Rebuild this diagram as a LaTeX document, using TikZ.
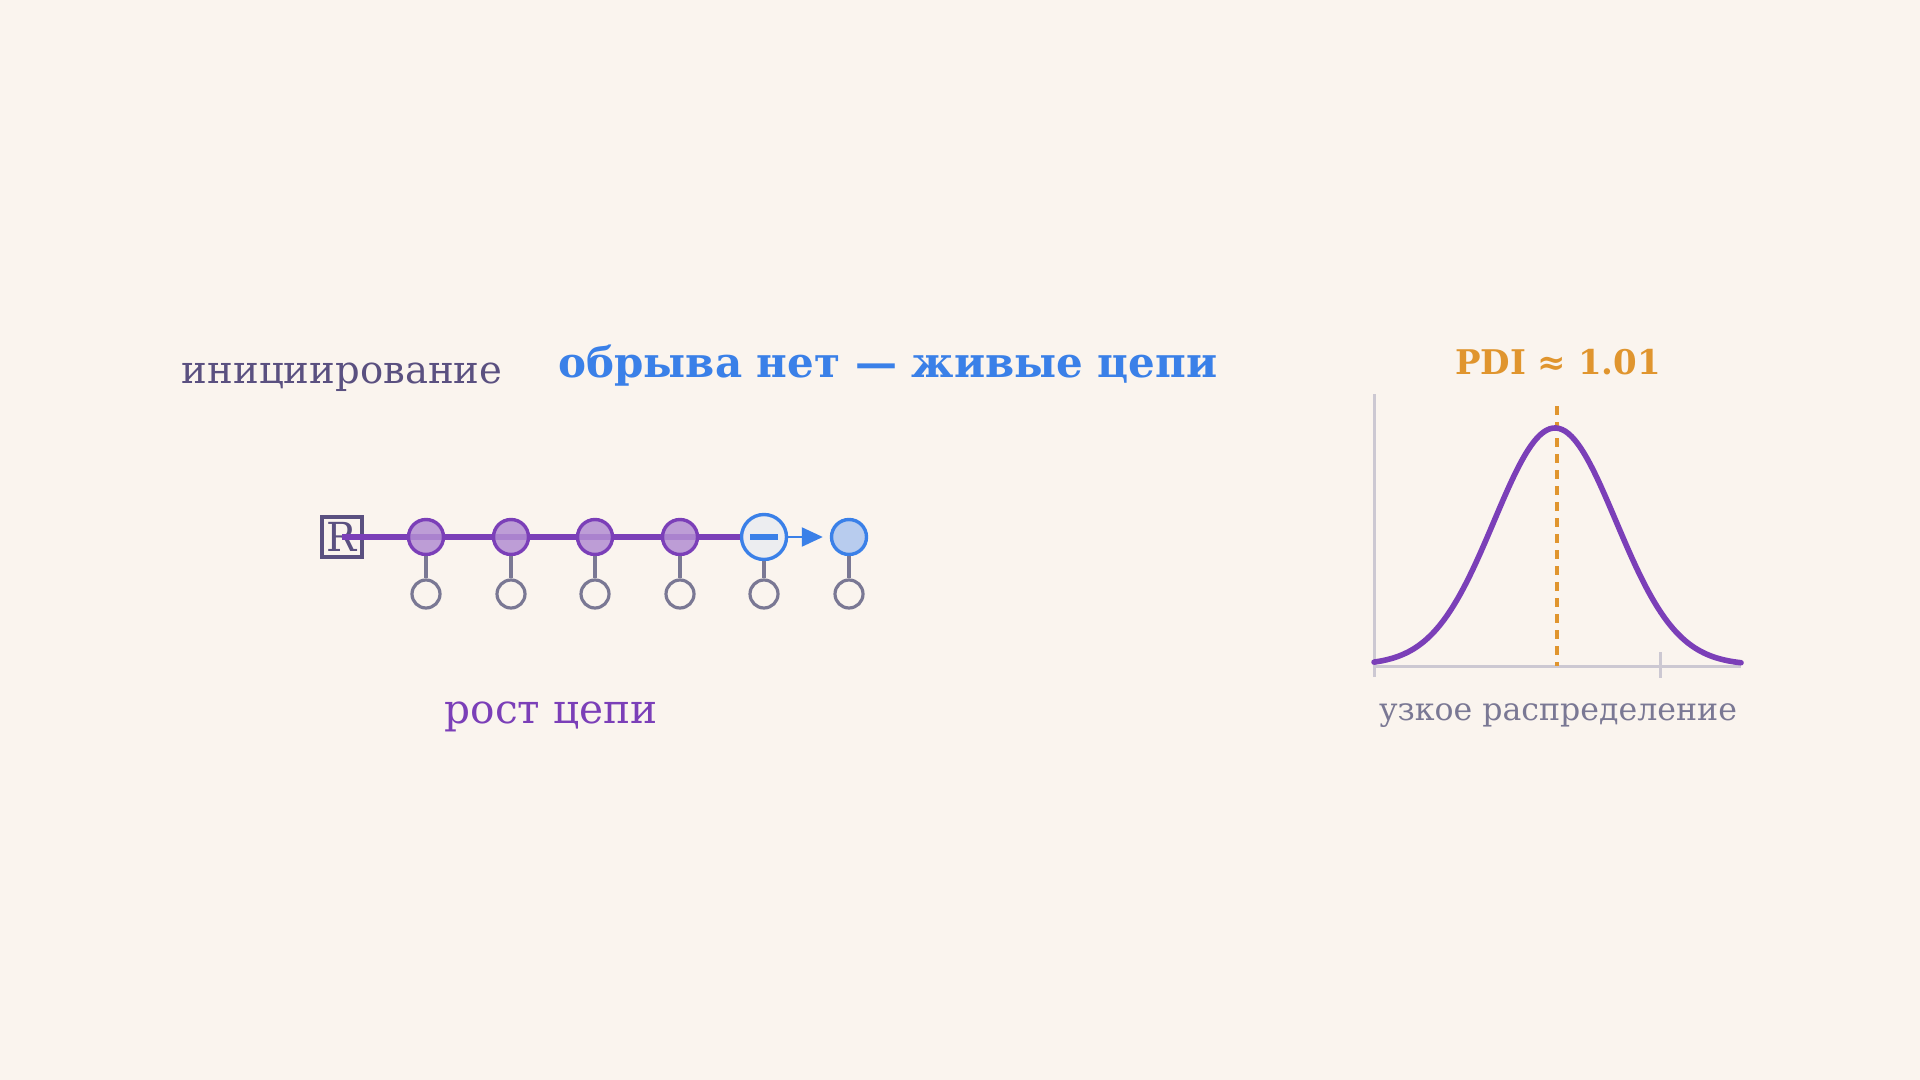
\documentclass[tikz,border=0pt]{standalone}
\usepackage{fontspec}
\setmainfont{DejaVu Serif}
\usepackage{tikz}
\usetikzlibrary{arrows.meta, positioning}

\definecolor{fon}{HTML}{FAF4EE}
\definecolor{ljub}{HTML}{7B3FB8}
\definecolor{ljubsv}{HTML}{B38ED2}
\definecolor{plav}{HTML}{3A80E8}
\definecolor{plavsv}{HTML}{B8CCEE}
\definecolor{sivsv}{HTML}{ECEDF0}
\definecolor{oranz}{HTML}{E0952E}
\definecolor{tekst}{HTML}{5A5080}
\definecolor{siv}{HTML}{7A7894}
\definecolor{os}{HTML}{CCC8D2}

\tikzset{
	monomer/.style={circle, draw=ljub, line width=1.7pt, fill=ljubsv, fill opacity=0.85, minimum size=17.5pt, inner sep=0pt},
	aktiv/.style={circle, draw=plav, line width=1.7pt, fill=sivsv, minimum size=22.5pt, inner sep=0pt},
	novi/.style={circle, draw=plav, line width=1.7pt, fill=plavsv, minimum size=17.5pt, inner sep=0pt},
	bocna/.style={circle, draw=siv, line width=1.6pt, fill=fon, minimum size=14pt, inner sep=0pt},
	stem/.style={draw=siv, line width=1.6pt},
}

\begin{document}
\begin{tikzpicture}[x=0.5pt, y=-0.5pt]
	%pozadina
	\fill[fon] (0,0) rectangle (1920,1080);

	%naslovi
	\node[text=tekst, font=\fontsize{19.3}{22}\selectfont] (init) at (342, 377) {инициирование};
	\node[text=plav, font=\bfseries\fontsize{21}{24}\selectfont] (naslov) at (888, 366) {обрыва нет — живые цепи};
	\node[text=ljub, font=\fontsize{20.3}{23}\selectfont] (rast) at (551, 717) {рост цепи};

	%lanac
	\node[draw=tekst, line width=1.7pt, text=tekst, minimum size=20pt, inner sep=0pt, font=\fontsize{20}{22}\selectfont] (R) at (342, 537) {R};
	\node[aktiv] (act) at (764, 537) {};
	\draw[ljub, line width=2.6pt] (R.center) -- (act.west);
	\node[monomer] (m1) at (426, 537) {};
	\node[monomer] (m2) at (511, 537) {};
	\node[monomer] (m3) at (595, 537) {};
	\node[monomer] (m4) at (680, 537) {};
	\node[novi] (mon) at (849, 537) {};
	\draw[plav, line width=2.7pt] ([xshift=-7pt]act.center) -- ([xshift=7pt]act.center);
	\draw[plav, line width=1.1pt, -{Triangle[length=10.5pt, width=9.5pt]}, shorten >=3.5pt] (act) -- (mon);

	%bocne grupe
	\foreach \i/\m/\x in {1/m1/426, 2/m2/511, 3/m3/595, 4/m4/680, 5/act/764, 6/mon/849} {
		\node[bocna] (s\i) at (\x, 594) {};
		\draw[stem] (\m) -- (s\i);
	}

	%raspodjela
	\coordinate (O) at (1374, 666);
	\coordinate (ytop) at (1374, 394);
	\coordinate (xend) at (1741, 666);
	\draw[os, line width=1.5pt] (1374, 677) -- (ytop);
	\draw[os, line width=1.5pt] (O) -- (xend);
	\draw[os, line width=1.5pt] (1660, 652) -- (1660, 678);
	\draw[oranz, line width=2.2pt, dash pattern=on 4.5pt off 3.5pt] (1557, 406) -- (1557, 666);
	\draw[ljub, line width=2.8pt, line cap=round] plot[domain=1374:1741, samples=120, smooth] (\x, {665 - 237*exp(-((\x-1555)/61)^2/2)});

	\node[text=oranz, font=\bfseries\fontsize{17}{20}\selectfont] (pdi) at (1558, 362) {PDI ≈ 1.01};
	\node[text=siv, font=\fontsize{15.8}{19}\selectfont] (uzko) at (1558, 716) {узкое распределение};
\end{tikzpicture}
\end{document}
